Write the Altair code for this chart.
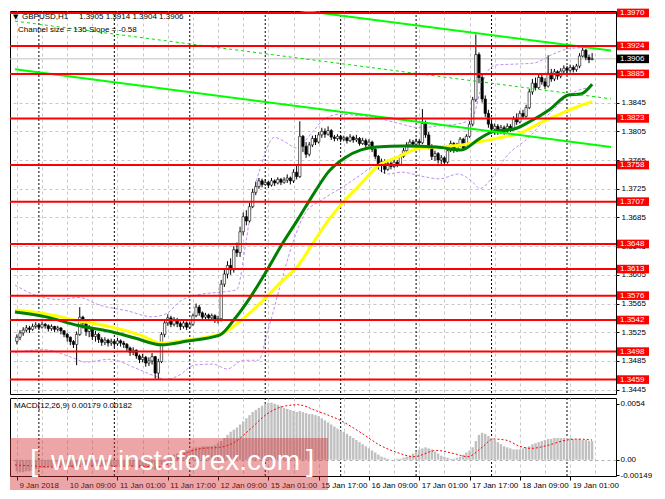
import json
import altair as alt
import pandas as pd

# ---------------- values ----------------
header_symbol = "GBPUSD,H1"
header_prices = "1.3905 1.3914 1.3904 1.3906"
channel_text = "Channel size = 135 Slope = -0.58"
macd_text = "MACD(12,26,9) 0.00179 0.00182"
watermark_text = "www.instaforex.com"

x_tick_bars = [0, 16, 32, 48, 64, 80, 96, 112, 128, 144, 160, 176]
x_tick_labels = ["9 Jan 2018", "10 Jan 09:00", "11 Jan 01:00", "11 Jan 17:00",
                 "12 Jan 09:00", "15 Jan 01:00", "15 Jan 17:00", "16 Jan 09:00",
                 "17 Jan 01:00", "17 Jan 17:00", "18 Jan 09:00", "19 Jan 01:00"]
grid_bars = list(range(0, 185, 8))
day_separators = [7, 31, 55, 79, 103, 127, 151, 175]

price_ticks = [1.3445, 1.3485, 1.3525, 1.3565, 1.3605, 1.3645, 1.3685, 1.3725,
               1.3765, 1.3805, 1.3845]
levels = [1.3970, 1.3924, 1.3885, 1.3823, 1.3758, 1.3707, 1.3648, 1.3613,
          1.3576, 1.3542, 1.3498, 1.3459]
last_price = 1.3906
macd_ticks = [0.0054, 0.0, -0.00149]
macd_tick_labels = ["0.0054", "0.00", "-0.00149"]

first_open = 1.3512
closes = [
    1.3518, 1.3524, 1.3528, 1.3531, 1.3529, 1.3533, 1.3535, 1.3532, 1.3536, 1.3534,
    1.3530, 1.3533, 1.3529, 1.3531, 1.3527, 1.3522, 1.3518, 1.3512, 1.3508, 1.3522,
    1.3546, 1.3538, 1.3526, 1.3530, 1.3519, 1.3522, 1.3515, 1.3511, 1.3514, 1.3510,
    1.3512, 1.3509, 1.3513, 1.3510, 1.3508, 1.3503, 1.3497, 1.3500, 1.3492, 1.3487,
    1.3490, 1.3482, 1.3485, 1.3491, 1.3468, 1.3484, 1.3522, 1.3538, 1.3545, 1.3536,
    1.3542, 1.3537, 1.3533, 1.3538, 1.3532, 1.3536, 1.3548, 1.3560, 1.3552, 1.3546,
    1.3549, 1.3545, 1.3548, 1.3542, 1.3544, 1.3592, 1.3606, 1.3618, 1.3612, 1.3640,
    1.3636, 1.3665, 1.3686, 1.3680, 1.3700, 1.3720, 1.3728, 1.3736, 1.3731, 1.3734,
    1.3730, 1.3736, 1.3733, 1.3738, 1.3734, 1.3737, 1.3740, 1.3736, 1.3748, 1.3742,
    1.3798, 1.3784, 1.3773, 1.3786, 1.3795, 1.3790, 1.3800, 1.3805, 1.3801, 1.3806,
    1.3797, 1.3795, 1.3798, 1.3794, 1.3796, 1.3792, 1.3797, 1.3793, 1.3795, 1.3788,
    1.3792, 1.3786, 1.3790, 1.3780, 1.3770, 1.3758, 1.3763, 1.3752, 1.3760, 1.3756,
    1.3762, 1.3759, 1.3770, 1.3778, 1.3786, 1.3790, 1.3787, 1.3791, 1.3789, 1.3816,
    1.3800, 1.3784, 1.3770, 1.3774, 1.3765, 1.3768, 1.3762, 1.3778, 1.3788, 1.3780,
    1.3786, 1.3794, 1.3782, 1.3798, 1.3815, 1.3849, 1.3912, 1.3880, 1.3850, 1.3830,
    1.3815, 1.3808, 1.3812, 1.3804, 1.3810, 1.3805, 1.3812, 1.3808, 1.3822, 1.3818,
    1.3830, 1.3826, 1.3838, 1.3860, 1.3872, 1.3866, 1.3880, 1.3874, 1.3868, 1.3886,
    1.3878, 1.3888, 1.3882, 1.3889, 1.3893, 1.3890, 1.3894, 1.3891, 1.3896, 1.3910,
    1.3918, 1.3908, 1.3905, 1.3906]
highs = [
    1.3522, 1.3528, 1.3532, 1.3535, 1.3534, 1.3537, 1.3539, 1.3537, 1.3540, 1.3538,
    1.3536, 1.3536, 1.3534, 1.3534, 1.3532, 1.3528, 1.3524, 1.3519, 1.3514, 1.3526,
    1.3560, 1.3548, 1.3540, 1.3535, 1.3532, 1.3527, 1.3524, 1.3518, 1.3518, 1.3516,
    1.3516, 1.3514, 1.3517, 1.3515, 1.3513, 1.3510, 1.3505, 1.3504, 1.3501, 1.3494,
    1.3495, 1.3492, 1.3490, 1.3496, 1.3492, 1.3488, 1.3525, 1.3542, 1.3550, 1.3548,
    1.3546, 1.3545, 1.3540, 1.3541, 1.3540, 1.3540, 1.3551, 1.3565, 1.3563, 1.3554,
    1.3552, 1.3551, 1.3551, 1.3550, 1.3548, 1.3598, 1.3612, 1.3624, 1.3628, 1.3645,
    1.3650, 1.3672, 1.3692, 1.3695, 1.3705, 1.3725, 1.3735, 1.3740, 1.3739, 1.3738,
    1.3736, 1.3740, 1.3738, 1.3741, 1.3740, 1.3741, 1.3745, 1.3742, 1.3752, 1.3758,
    1.3819, 1.3800, 1.3790, 1.3790, 1.3799, 1.3800, 1.3804, 1.3810, 1.3809, 1.3812,
    1.3808, 1.3800, 1.3801, 1.3800, 1.3799, 1.3798, 1.3801, 1.3799, 1.3800, 1.3797,
    1.3796, 1.3795, 1.3794, 1.3792, 1.3783, 1.3772, 1.3767, 1.3766, 1.3764, 1.3763,
    1.3766, 1.3765, 1.3773, 1.3782, 1.3790, 1.3794, 1.3793, 1.3795, 1.3794, 1.3836,
    1.3820, 1.3804, 1.3787, 1.3778, 1.3776, 1.3772, 1.3770, 1.3782, 1.3792, 1.3790,
    1.3789, 1.3797, 1.3796, 1.3801, 1.3819, 1.3853, 1.3940, 1.3915, 1.3884, 1.3855,
    1.3835, 1.3820, 1.3816, 1.3815, 1.3814, 1.3813, 1.3816, 1.3815, 1.3826, 1.3830,
    1.3834, 1.3835, 1.3842, 1.3864, 1.3878, 1.3880, 1.3884, 1.3884, 1.3879, 1.3911,
    1.3892, 1.3892, 1.3890, 1.3893, 1.3897, 1.3896, 1.3898, 1.3897, 1.3899, 1.3914,
    1.3924, 1.3920, 1.3912, 1.3914]
lows = [
    1.3508, 1.3514, 1.3520, 1.3525, 1.3524, 1.3527, 1.3530, 1.3528, 1.3530, 1.3530,
    1.3526, 1.3527, 1.3525, 1.3526, 1.3522, 1.3518, 1.3512, 1.3507, 1.3503, 1.3479,
    1.3520, 1.3530, 1.3520, 1.3518, 1.3514, 1.3512, 1.3510, 1.3506, 1.3507, 1.3505,
    1.3506, 1.3504, 1.3506, 1.3505, 1.3503, 1.3498, 1.3492, 1.3493, 1.3488, 1.3482,
    1.3483, 1.3477, 1.3478, 1.3480, 1.3460, 1.3459, 1.3482, 1.3518, 1.3534, 1.3532,
    1.3533, 1.3532, 1.3528, 1.3530, 1.3528, 1.3530, 1.3534, 1.3546, 1.3548, 1.3542,
    1.3543, 1.3541, 1.3542, 1.3538, 1.3537, 1.3540, 1.3588, 1.3600, 1.3605, 1.3608,
    1.3630, 1.3630, 1.3660, 1.3674, 1.3678, 1.3698, 1.3716, 1.3725, 1.3727, 1.3729,
    1.3726, 1.3728, 1.3729, 1.3731, 1.3730, 1.3732, 1.3733, 1.3731, 1.3733, 1.3738,
    1.3740, 1.3776, 1.3768, 1.3770, 1.3783, 1.3786, 1.3788, 1.3796, 1.3796, 1.3799,
    1.3793, 1.3791, 1.3792, 1.3790, 1.3791, 1.3788, 1.3790, 1.3789, 1.3790, 1.3785,
    1.3786, 1.3782, 1.3784, 1.3776, 1.3766, 1.3752, 1.3748, 1.3746, 1.3750, 1.3752,
    1.3754, 1.3755, 1.3757, 1.3768, 1.3775, 1.3783, 1.3784, 1.3785, 1.3785, 1.3787,
    1.3796, 1.3780, 1.3765, 1.3764, 1.3760, 1.3758, 1.3757, 1.3760, 1.3776, 1.3775,
    1.3776, 1.3783, 1.3778, 1.3780, 1.3796, 1.3812, 1.3846, 1.3872, 1.3845, 1.3825,
    1.3810, 1.3802, 1.3800, 1.3800, 1.3801, 1.3800, 1.3803, 1.3804, 1.3806, 1.3814,
    1.3816, 1.3822, 1.3824, 1.3836, 1.3856, 1.3862, 1.3864, 1.3870, 1.3864, 1.3866,
    1.3874, 1.3875, 1.3877, 1.3879, 1.3885, 1.3886, 1.3887, 1.3887, 1.3888, 1.3893,
    1.3908, 1.3904, 1.3900, 1.3904]

# moving averages (sampled along the curves)
ma_green_i = [-0.6, 9.3, 19.5, 29.4, 37.5, 45.9, 54.3, 64.5, 69.3, 74.4, 79.5, 84.3, 89.4,
              94.5, 99.3, 104.4, 109.5, 114.3, 123.3, 133.5, 141.3, 147.3, 151.5, 158.4,
              163.5, 169.5, 175.5, 179.4, 183.0]
ma_green_p = [1.35532, 1.35464, 1.35343, 1.35263, 1.35169, 1.35074, 1.35128, 1.35209,
              1.35437, 1.35747, 1.36110, 1.36473, 1.36823, 1.37186, 1.37495, 1.37683,
              1.37791, 1.37831, 1.37845, 1.37831, 1.37791, 1.37952, 1.38046, 1.38086,
              1.38194, 1.38355, 1.38557, 1.38570, 1.38705]
ma_yellow_i = [-0.6, 9.3, 19.5, 29.4, 39.3, 45.9, 54.3, 65.4, 69.3, 74.4, 79.5, 84.0, 89.4,
               94.5, 99.3, 104.4, 109.5, 114.3, 121.5, 128.4, 133.5, 141.3, 146.4, 152.4,
               160.5, 166.5, 173.4, 178.5, 183.0]
ma_yellow_p = [1.35559, 1.35505, 1.35411, 1.35330, 1.35209, 1.35101, 1.35142, 1.35236,
               1.35343, 1.35532, 1.35747, 1.35949, 1.36177, 1.36513, 1.36823, 1.37091,
               1.37320, 1.37549, 1.37697, 1.37818, 1.37831, 1.37858, 1.37898, 1.37952,
               1.38033, 1.38167, 1.38302, 1.38396, 1.38463]

# envelope bands (violet dashed)
band_up_i = [-0.6, 5.4, 12.9, 19.8, 26.4, 35.4, 42.9, 47.4, 51.9, 57.9, 66.0, 69.9, 72.9,
             75.0, 78.0, 81.9, 85.5, 88.8, 93.9, 97.8, 102.9, 107.4, 113.4, 120.9, 128.4,
             134.4, 140.4, 144.9, 147.3, 149.4, 152.4, 158.4, 164.4, 170.4, 175.5, 179.4, 183.0]
band_up_p = [1.35908, 1.35774, 1.35707, 1.35733, 1.35626, 1.35545, 1.35465, 1.35505,
             1.35680, 1.35774, 1.35814, 1.35841, 1.36513, 1.37118, 1.37616, 1.37965,
             1.37898, 1.37818, 1.38033, 1.38221, 1.38288, 1.38275, 1.38248, 1.38167,
             1.38100, 1.38127, 1.38154, 1.38234, 1.38597, 1.38866, 1.38974, 1.38987,
             1.39001, 1.39122, 1.39202, 1.39216, 1.39243]
band_lo_i = [-0.6, 8.4, 17.4, 21.9, 29.4, 38.4, 44.4, 47.4, 51.9, 56.4, 62.4, 66.9, 72.0,
             76.8, 79.8, 84.0, 87.9, 91.8, 96.9, 103.8, 108.9, 113.4, 117.9, 122.4, 128.4,
             134.4, 140.4, 144.9, 147.3, 150.9, 155.4, 163.5, 169.5, 177.3, 183.0]
band_lo_p = [1.34967, 1.35007, 1.34900, 1.34833, 1.34873, 1.34738, 1.34631, 1.34591,
             1.34658, 1.34792, 1.34806, 1.34738, 1.34859, 1.34859, 1.35263, 1.35935,
             1.36513, 1.36917, 1.37091, 1.37280, 1.37428, 1.37549, 1.37455, 1.37481,
             1.37428, 1.37387, 1.37455, 1.37347, 1.37253, 1.37387, 1.37683, 1.37992,
             1.38302, 1.38597, 1.38665]

# regression channel end points
chan_i = [-0.6, 189.0]
chan_upper = [1.40251, 1.39176]
chan_mid = [1.39586, 1.38503]
chan_lower = [1.38915, 1.37831]

# MACD histogram and signal
macd_hist = [
    -0.0011, -0.0012, -0.0012, -0.0011, -0.0011, -0.0010,
    -0.0009, -0.0009, -0.0008, -0.0008, -0.0007, -0.0007, -0.0006, -0.0006,
    -0.0006, -0.0006, -0.0007, -0.0007, -0.0008,
    -0.0007, -0.0005, -0.0005, -0.0005, -0.0005, -0.0006, -0.0006, -0.0006,
    -0.0006, -0.0006, -0.0006, -0.0006, -0.0006, -0.0005, -0.0005, -0.0005,
    -0.0006, -0.0006, -0.0007, -0.0007, -0.0008, -0.0008, -0.0009, -0.0009, -0.0009, -0.0010,
    -0.0009,
    -0.0005, -0.0002, 0.0001, 0.0003, 0.0005, 0.0006, 0.0007, 0.0008, 0.0009, 0.0010,
    0.0011, 0.0012, 0.0012, 0.0013, 0.0013, 0.0013, 0.0013, 0.0014, 0.0016,
    0.0018, 0.0021, 0.0024, 0.0027, 0.0029, 0.0031, 0.0034, 0.0037,
    0.0040, 0.0043, 0.0046, 0.0048, 0.0050, 0.0052, 0.0054, 0.0055,
    0.0055, 0.0054, 0.0053, 0.0052, 0.0050, 0.0049, 0.0048, 0.0047, 0.0046,
    0.0047, 0.0046, 0.0045, 0.0044, 0.0044, 0.0043, 0.0042, 0.0040, 0.0038, 0.0036,
    0.0034, 0.0032, 0.0030, 0.0028, 0.0027, 0.0025, 0.0023, 0.0021, 0.0019, 0.0017,
    0.0015, 0.0013, 0.0011, 0.0009, 0.0007, 0.0005,
    0.0003, 0.0002, 0.0001, 0.0000, 0.0000, 0.0001, 0.0001, 0.0002, 0.0003, 0.0004,
    0.0006, 0.0008, 0.0010, 0.0011, 0.0012, 0.0011, 0.0010, 0.0008,
    0.0006, 0.0004, 0.0003, 0.0002, 0.0001, 0.0001, 0.0002, 0.0003,
    0.0005, 0.0007, 0.0009, 0.0012, 0.0018,
    0.0024, 0.0026, 0.0025, 0.0023, 0.0021,
    0.0019, 0.0017, 0.0015, 0.0013, 0.0012, 0.0011, 0.0010,
    0.0010, 0.0010, 0.0011, 0.0012,
    0.0013, 0.0015, 0.0016, 0.0017,
    0.0018, 0.0019, 0.0020, 0.0020, 0.0021, 0.0021, 0.0021, 0.0021, 0.0021, 0.0021,
    0.0020, 0.0020, 0.0020, 0.0019, 0.0019, 0.0018, 0.0018]
signal_i = [-0.6, 5.4, 11.4, 19.5, 29.4, 38.4, 44.4, 48.9, 54.3, 59.0, 64.5, 69.3, 74.4,
            79.5, 84.3, 89.4, 95.4, 103.5, 109.5, 115.5, 121.0, 126.3, 133.5, 139.0,
            143.4, 148.0, 151.5, 155.5, 160.0, 163.5, 169.0, 173.4, 178.0, 183.0]
signal_v = [-0.0005, -0.0006, -0.0007, -0.0006, -0.0006, -0.0006, -0.0007, -0.0003,
            0.0007, 0.0011, 0.0012, 0.0017, 0.0030, 0.0044, 0.0051, 0.0053, 0.0047,
            0.0037, 0.0026, 0.0014, 0.0007, 0.0003, 0.0009, 0.0006, 0.0003, 0.0012,
            0.0020, 0.0019, 0.0013, 0.0011, 0.0014, 0.0018, 0.0020, 0.0019]

# ---------------- layout / style ----------------
W, H1, H2 = 606, 383, 78
FONT = "Liberation Sans"
GRID = "#c8c8c8"
BOX_HALF = 0.0006  # half height of the price tag boxes, in price units

xs = alt.Scale(domain=[-0.6, 189.0], nice=False, zero=False)
ps = alt.Scale(domain=[1.34389, 1.39727], nice=False, zero=False)
ms = alt.Scale(domain=[-0.00156, 0.00595], nice=False, zero=False)

xa_price = alt.Axis(values=grid_bars, labels=False, ticks=False, domain=False, grid=True,
                    gridColor=GRID, gridDash=[3, 3], title=None)
ya_price = alt.Axis(orient="right", values=price_ticks, format=".4f", grid=True,
                    gridColor=GRID, gridDash=[3, 3], domain=False, tickSize=3,
                    tickColor="black", labelFont=FONT, labelFontSize=8, labelColor="black",
                    labelPadding=2, labelOverlap=False, title=None)
x_label_expr = ("datum.value % 16 == 0 ? " + json.dumps(x_tick_labels) +
                "[datum.value / 16] : ''")
xa_macd = alt.Axis(values=grid_bars, grid=True, gridColor=GRID, gridDash=[3, 3],
                   domain=False, tickSize=4, tickColor="black",
                   tickOpacity={"condition": {"test": "datum.value % 16 == 0", "value": 1}, "value": 0},
                   labelExpr=x_label_expr, labelAlign="left", labelFlush=False,
                   labelOverlap=False, labelFont=FONT, labelFontSize=8, labelColor="black",
                   labelPadding=1, labelOffset=2, title=None)
ya_macd = alt.Axis(orient="right", values=macd_ticks,
                   labelExpr=json.dumps(macd_tick_labels) + "[indexof(" + json.dumps(macd_ticks) + ", datum.value)]",
                   grid=True, gridColor="#b0b0b0", gridDash=[3, 3],
                   gridOpacity={"condition": {"test": "datum.value == 0", "value": 1}, "value": 0},
                   domain=False, tickSize=3, tickColor="black", labelFont=FONT,
                   labelFontSize=8, labelColor="black", labelPadding=1, labelOverlap=False,
                   title=None)


def PX(f):
    return alt.X(f + ":Q", scale=xs, axis=xa_price)


def PY(f):
    return alt.Y(f + ":Q", scale=ps, axis=ya_price)


def MX(f):
    return alt.X(f + ":Q", scale=xs, axis=xa_macd)


def MY(f):
    return alt.Y(f + ":Q", scale=ms, axis=ya_macd)


opens = [first_open] + closes[:-1]
bars = pd.DataFrame({"i": list(range(len(closes))), "o": opens, "h": highs,
                     "l": lows, "c": closes})
sep_df = pd.DataFrame({"i": day_separators})
lv_df = pd.DataFrame({"p": levels, "t": [f"{v:.4f}" for v in levels]})
last_df = pd.DataFrame({"p": [last_price], "t": [f"{last_price:.4f}"]})
one = pd.DataFrame({"t": [""]})


def line_df(ii, pp):
    return pd.DataFrame({"i": ii, "p": pp})


def tag_boxes(df, colour):
    return alt.Chart(df).transform_calculate(
        lo=f"datum.p - {BOX_HALF}", hi=f"datum.p + {BOX_HALF}"
    ).mark_rect(color=colour, opacity=1).encode(
        x=alt.value(W + 1), x2=alt.value(W + 33), y=PY("lo"), y2="hi:Q")


def tag_text(df):
    return alt.Chart(df).mark_text(align="left", baseline="middle", color="white",
                                   font=FONT, fontSize=8).encode(
        x=alt.value(W + 4), y=PY("p"), text="t:N")


def note(text, x, y, size=8):
    return alt.Chart(pd.DataFrame({"t": [text]})).mark_text(
        align="left", baseline="middle", font=FONT, fontSize=size, color="black").encode(
        x=alt.value(x), y=alt.value(y), text="t:N")


p_sep = alt.Chart(sep_df).mark_rule(color="black", strokeDash=[2, 2], strokeWidth=1).encode(x=PX("i"))
p_price_line = alt.Chart(last_df).mark_rule(color="#c0c0c0", strokeWidth=1).encode(y=PY("p"))
p_band_up = alt.Chart(line_df(band_up_i, band_up_p)).mark_line(
    color="#c08ff0", strokeDash=[3, 2], strokeWidth=1, interpolate="monotone").encode(x=PX("i"), y=PY("p"))
p_band_lo = alt.Chart(line_df(band_lo_i, band_lo_p)).mark_line(
    color="#c08ff0", strokeDash=[3, 2], strokeWidth=1, interpolate="monotone").encode(x=PX("i"), y=PY("p"))
p_wick = alt.Chart(bars).mark_rule(color="black", strokeWidth=1).encode(x=PX("i"), y=PY("l"), y2="h")
p_body = alt.Chart(bars).mark_bar(size=2.4, stroke="black", strokeWidth=0.6).encode(
    x=PX("i"), y=PY("o"), y2="c",
    fill=alt.condition(alt.datum.c >= alt.datum.o, alt.value("#ffffff"), alt.value("#000000")))
p_ma_y = alt.Chart(line_df(ma_yellow_i, ma_yellow_p)).mark_line(
    color="#ffff00", strokeWidth=3, interpolate="monotone").encode(x=PX("i"), y=PY("p"))
p_ma_g = alt.Chart(line_df(ma_green_i, ma_green_p)).mark_line(
    color="#008000", strokeWidth=3, interpolate="monotone").encode(x=PX("i"), y=PY("p"))
p_ch_up = alt.Chart(line_df(chan_i, chan_upper)).mark_line(
    color="#00ff00", strokeWidth=2, clip=True).encode(x=PX("i"), y=PY("p"))
p_ch_mid = alt.Chart(line_df(chan_i, chan_mid)).mark_line(
    color="#00e000", strokeWidth=1, strokeDash=[3, 3], clip=True).encode(x=PX("i"), y=PY("p"))
p_ch_lo = alt.Chart(line_df(chan_i, chan_lower)).mark_line(
    color="#00ff00", strokeWidth=2, clip=True).encode(x=PX("i"), y=PY("p"))
p_levels = alt.Chart(lv_df).mark_rule(color="#ff0000", strokeWidth=2).encode(y=PY("p"))
p_tri = alt.Chart(one).mark_text(text="\u25bc", align="left", baseline="middle", font="DejaVu Sans",
                                 fontSize=7, color="black").encode(x=alt.value(3), y=alt.value(6))

price = alt.layer(p_sep, p_price_line, p_band_up, p_band_lo, p_wick, p_body, p_ma_y, p_ma_g,
                  p_ch_up, p_ch_mid, p_ch_lo, p_levels,
                  tag_boxes(lv_df, "#ff0000"), tag_text(lv_df),
                  tag_boxes(last_df, "#000000"), tag_text(last_df),
                  p_tri, note(header_symbol, 12, 6), note(header_prices, 69, 6),
                  note(channel_text, 8, 19)).properties(width=W, height=H1)

hist_df = pd.DataFrame({"i": list(range(len(macd_hist))), "v": macd_hist})
sig_df = pd.DataFrame({"i": signal_i, "v": signal_v})

m_sep = alt.Chart(sep_df).mark_rule(color="black", strokeDash=[2, 2], strokeWidth=1).encode(x=MX("i"))
m_hist = alt.Chart(hist_df).mark_bar(size=2.4, color="#c0c0c0").encode(
    x=MX("i"), y=MY("v"), y2=alt.datum(0))
m_sig = alt.Chart(sig_df).mark_line(color="#ff0000", strokeDash=[2, 2], strokeWidth=1,
                                    interpolate="monotone").encode(x=MX("i"), y=MY("v"))
m_wm_rect = alt.Chart(one).mark_rect(color="#d42a2f", opacity=0.42).encode(
    x=alt.value(0), x2=alt.value(318), y=alt.value(40), y2=alt.value(H2 + 14))
m_wm_txt = alt.Chart(pd.DataFrame({"t": [watermark_text]})).mark_text(
    align="left", baseline="alphabetic", font=FONT, fontSize=28, color="white").encode(
    x=alt.value(41), y=alt.value(72), text="t:N")
m_wm_l = alt.Chart(one).mark_text(text="[", align="left", baseline="alphabetic", font=FONT,
                                  fontSize=30, color="white").encode(x=alt.value(20), y=alt.value(73))
m_wm_r = alt.Chart(one).mark_text(text="]", align="left", baseline="alphabetic", font=FONT,
                                  fontSize=30, color="white").encode(x=alt.value(296), y=alt.value(73))

macd = alt.layer(m_sep, m_hist, m_sig, note(macd_text, 4, 8), m_wm_rect, m_wm_txt,
                 m_wm_l, m_wm_r).properties(width=W, height=H2)

chart = alt.vconcat(price, macd, spacing=2).properties(
    padding={"left": 0, "top": 0, "right": 0, "bottom": 0}, background="white"
).configure_view(stroke="black", strokeWidth=1)

chart.save("out.html", embed_options={"renderer": "svg", "actions": False})
